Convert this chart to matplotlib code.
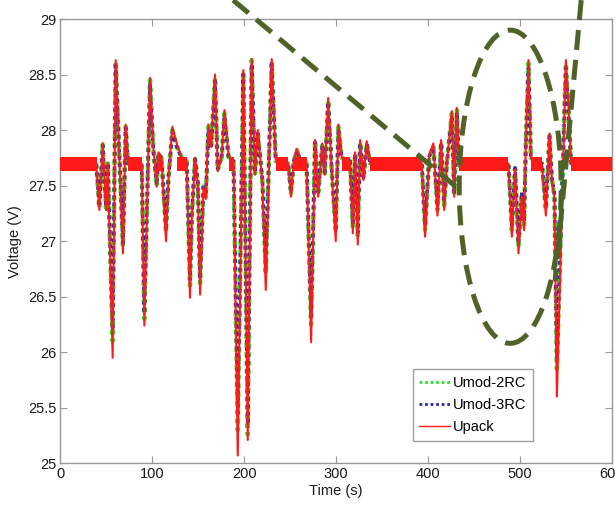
import matplotlib
matplotlib.use("Agg")
import matplotlib.pyplot as plt
from matplotlib.patches import Ellipse
from matplotlib.lines import Line2D

# ---- data ----
time_s = [0, 39, 42.3, 46, 49.6, 51.5, 56.8, 60.1, 68, 71, 73.5, 88.4, 91.3, 97.5,
          101, 104.8, 106.6, 110, 114.9, 117.5, 121.8, 126.5, 132, 137.4, 141, 143,
          146.5, 149.5, 152, 155.7, 158.3, 161, 164, 168.3, 171.2, 175.6, 178.5, 183,
          188.4, 193, 199.1, 203.9, 208.2, 211.8, 214.8, 219.9, 223.5, 230, 234.4,
          248, 251, 254, 257.3, 262, 268, 272.9, 277.2, 280.6, 285, 287.8, 291.5,
          295.3, 299.7, 302.6, 306.3, 315.3, 318.3, 320.8, 323.7, 326.3, 329.9, 333.5,
          337.2, 393.4, 397, 401.5, 406, 410.5, 414.5, 417.8, 420.7, 426.1, 428.7,
          431.6, 434.1, 487.8, 491.5, 495, 498.7, 502.3, 504.8, 506.7, 509.6, 512.2,
          516.9, 524.2, 528.5, 532.5, 535, 537.9, 540.5, 550.3, 553.2, 556, 600]

upack = [27.69, 27.69, 27.28, 27.88, 27.28, 27.70, 25.95, 28.63, 26.89, 28.05, 27.70, 27.70, 26.24, 28.47,
         27.85, 27.49, 27.80, 27.75, 27.00, 27.55, 28.03, 27.88, 27.75, 27.72, 26.49, 27.20,
         27.75, 27.52, 26.52, 27.48, 27.38, 28.05, 27.85, 28.50, 27.63, 27.77, 28.18, 27.77,
         27.72, 25.07, 28.54, 25.21, 28.64, 27.60, 28.00, 27.52, 26.56, 28.64, 27.73,
         27.70, 27.40, 27.72, 27.83, 27.72, 27.70, 26.09, 27.91, 27.40, 27.88, 27.60, 28.29,
         27.63, 27.00, 28.05, 27.75, 27.72, 27.07, 27.80, 26.97, 27.91, 27.55, 27.90,
         27.70, 27.70, 27.04, 27.77, 27.88, 27.23, 27.91, 27.28, 27.70, 28.17, 27.40,
         28.20, 27.68, 27.70, 27.04, 27.65, 26.89, 27.40, 27.10, 27.90, 28.63, 27.75,
         27.72, 27.70, 27.23, 27.97, 27.55, 27.38, 25.60, 28.63, 28.20, 27.70, 27.70]

umod_2rc = [27.69, 27.69, 27.30, 27.87, 27.30, 27.70, 26.10, 28.62, 26.95, 28.03, 27.70, 27.70, 26.30, 28.45,
            27.84, 27.50, 27.79, 27.75, 27.08, 27.56, 28.00, 27.86, 27.75, 27.72, 26.60, 27.22,
            27.74, 27.53, 26.62, 27.49, 27.40, 28.03, 27.84, 28.47, 27.64, 27.76, 28.15, 27.76,
            27.72, 25.30, 28.52, 25.26, 28.63, 27.61, 27.98, 27.53, 26.70, 28.62, 27.72,
            27.70, 27.42, 27.72, 27.82, 27.72, 27.70, 26.25, 27.90, 27.42, 27.86, 27.61, 28.27,
            27.64, 27.08, 28.03, 27.75, 27.72, 27.12, 27.79, 27.05, 27.89, 27.56, 27.88,
            27.70, 27.70, 27.10, 27.76, 27.86, 27.28, 27.89, 27.32, 27.70, 28.15, 27.42,
            28.18, 27.68, 27.70, 27.10, 27.65, 26.95, 27.42, 27.15, 27.88, 28.60, 27.75,
            27.72, 27.70, 27.28, 27.95, 27.56, 27.40, 25.85, 28.60, 28.18, 27.70, 27.70]

umod_3rc = [27.69, 27.69, 27.31, 27.86, 27.31, 27.70, 26.20, 28.58, 26.98, 28.02, 27.70, 27.70, 26.35, 28.42,
            27.83, 27.51, 27.79, 27.75, 27.10, 27.57, 27.98, 27.85, 27.75, 27.72, 26.65, 27.24,
            27.74, 27.54, 26.66, 27.50, 27.42, 28.01, 27.83, 28.44, 27.65, 27.76, 28.13, 27.76,
            27.72, 25.45, 28.50, 25.35, 28.60, 27.62, 27.97, 27.54, 26.75, 28.60, 27.72,
            27.70, 27.44, 27.72, 27.81, 27.72, 27.70, 26.32, 27.89, 27.44, 27.85, 27.62, 28.25,
            27.65, 27.12, 28.01, 27.75, 27.72, 27.15, 27.78, 27.08, 27.88, 27.57, 27.87,
            27.70, 27.70, 27.14, 27.76, 27.85, 27.31, 27.88, 27.35, 27.70, 28.13, 27.44,
            28.16, 27.68, 27.70, 27.14, 27.66, 26.98, 27.44, 27.18, 27.86, 28.56, 27.75,
            27.72, 27.70, 27.30, 27.94, 27.57, 27.42, 25.95, 28.56, 28.16, 27.70, 27.70]

# quiet intervals where the measured voltage is a noisy band
quiet_start = [0, 73.5, 106.6, 126.5, 183, 234.4, 254, 306.3, 337.2, 434.1, 512.2, 556]
quiet_end = [39.5, 88.4, 110.5, 137.4, 188.4, 248, 268, 315.3, 393.4, 487.8, 524.2, 600]
noise_low = 27.63
noise_high = 27.76

x_ticks = [0, 100, 200, 300, 400, 500, 600]
y_ticks = [25, 25.5, 26, 26.5, 27, 27.5, 28, 28.5, 29]
series_labels = ["Umod-2RC", "Umod-3RC", "Upack"]

# ---- figure ----
plt.rcParams['font.family'] = ['Liberation Sans', 'DejaVu Sans']
fig = plt.figure(figsize=(6.16, 5.07), dpi=100)
ax = fig.add_axes([0.0982, 0.0862, 0.8945, 0.8763])

l2, = ax.plot(time_s, umod_2rc, color='#2ee02e', lw=3.2, ls=(0, (1, 1)), zorder=2,
              label=series_labels[0])
l3, = ax.plot(time_s, umod_3rc, color='#2a2aa8', lw=2.6, ls=(0, (1, 1)), zorder=2.5,
              label=series_labels[1])
for s, e in zip(quiet_start, quiet_end):
    ax.fill_between([s, e], noise_low, noise_high, color='#ff1a1a', lw=0, zorder=3)
lu, = ax.plot(time_s, upack, color='#ff1a1a', lw=1.5, zorder=4, label=series_labels[2])

ax.set_xlim(0, 600)
ax.set_ylim(25, 29)
ax.set_xticks(x_ticks)
ax.set_yticks(y_ticks)
ax.set_yticklabels(['%g' % v for v in y_ticks])
ax.tick_params(direction='in', top=True, right=True, length=5, width=0.8,
               color='#999999', labelsize=10.5, labelcolor='#1a1a1a', pad=3)
for sp in ax.spines.values():
    sp.set_color('#999999')
    sp.set_linewidth(1.0)
ax.set_xlabel('Time (s)', fontsize=10.5, labelpad=2, color='#1a1a1a')
ax.set_ylabel('Voltage (V)', fontsize=10.5, labelpad=4, color='#1a1a1a')

leg = ax.legend(handles=[l2, l3, lu], loc='lower left', bbox_to_anchor=(0.639, 0.051),
                fontsize=10.5, frameon=True, fancybox=False, handlelength=2.1,
                handletextpad=0.2, borderpad=0.45, labelspacing=0.55, borderaxespad=0)
leg.get_frame().set_edgecolor('#888888')
leg.get_frame().set_linewidth(1.0)
leg.set_zorder(10)
leg_lines = leg.get_lines()
leg_lines[0].set_linewidth(2.0)
leg_lines[1].set_linewidth(2.0)
leg_lines[2].set_linewidth(1.0)

# ---- dashed highlight overlay (annotation shapes, in data coordinates) ----
olive = '#4f6228'
ax.add_line(Line2D([188, 435], [29.17, 27.46], color=olive, lw=3.6, ls=(0, (4, 2)),
                   clip_on=False, zorder=8))
ax.add_patch(Ellipse((489.7, 27.49), 111, 2.82, fill=False, edgecolor=olive, lw=3.6,
                     ls=(0, (4, 2)), clip_on=False, zorder=8))
ax.add_line(Line2D([567, 538.7], [29.17, 26.65], color=olive, lw=3.6, ls=(0, (4, 2)),
                   clip_on=False, zorder=8))

fig.savefig('out.png', dpi=100)
